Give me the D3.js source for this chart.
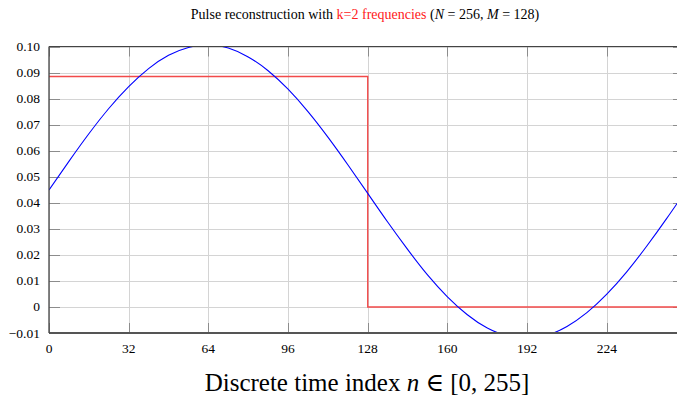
<!DOCTYPE html>
<html lang="en">
<head>
<meta charset="utf-8">
<title>Pulse reconstruction</title>
<script src="https://d3js.org/d3.v7.min.js"></script>
<style>
  body { margin: 0; padding: 0; background: #fff; }
  svg { display: block; font-family: 'Liberation Serif', 'DejaVu Serif', serif; }
  .grid line { stroke: #d4d4d4; stroke-width: 1; }
  .tick-in { stroke: #8c8c8c; stroke-width: 1; }
</style>
</head>
<body>
<script>
// sample index and reconstructed signal (every 8 samples)
var sampleN = [0, 8, 16, 24, 32, 40, 48, 56, 64, 72, 80, 88, 96, 104, 112, 120, 128,
               136, 144, 152, 160, 168, 176, 184, 192, 200, 208, 216, 224, 232, 240, 248, 255];
var reconValues = [0.0449, 0.0559, 0.0665, 0.0762, 0.0846, 0.0915, 0.0966, 0.0996, 0.1006,
                   0.0994, 0.0960, 0.0907, 0.0836, 0.0750, 0.0652, 0.0546, 0.0436,
                   0.0326, 0.0221, 0.0123, 0.0039, -0.0030, -0.0081, -0.0111, -0.0121,
                   -0.0109, -0.0075, -0.0022, 0.0049, 0.0135, 0.0233, 0.0339, 0.0436];

// original pulse (step)
var pulseN = [0, 128, 255];
var pulseValues = [0.0885, 0, 0];

var xTicks = [0, 32, 64, 96, 128, 160, 192, 224];
var yTicks = [-0.01, 0, 0.01, 0.02, 0.03, 0.04, 0.05, 0.06, 0.07, 0.08, 0.09, 0.10];

var width = 677, height = 404;
var pLeft = 49, pTop = 46.5, pBottom = 333, pRight = 684;

var svg = d3.select("body").append("svg")
    .attr("width", width)
    .attr("height", height);

var x = d3.scaleLinear().domain([0, 255]).range([pLeft, pRight]);
var y = d3.scaleLinear().domain([-0.01, 0.10]).range([pBottom, pTop]);

svg.append("defs").append("clipPath").attr("id", "plotclip")
  .append("rect")
    .attr("x", pLeft).attr("y", pTop)
    .attr("width", pRight - pLeft).attr("height", pBottom - pTop);

// grid
var grid = svg.append("g").attr("class", "grid");
grid.selectAll(".gx").data(xTicks).enter().append("line")
    .attr("x1", function(d) { return Math.round(x(d)) + 0.5; })
    .attr("x2", function(d) { return Math.round(x(d)) + 0.5; })
    .attr("y1", pTop).attr("y2", pBottom);
grid.selectAll(".gy").data(yTicks).enter().append("line")
    .attr("y1", function(d) { return Math.round(y(d)) + 0.5; })
    .attr("y2", function(d) { return Math.round(y(d)) + 0.5; })
    .attr("x1", pLeft).attr("x2", pRight);

// inner tick marks
var ticks = svg.append("g");
yTicks.forEach(function(d) {
  var yy = Math.round(y(d)) + 0.5;
  ticks.append("line").attr("class", "tick-in").attr("x1", pLeft).attr("x2", pLeft + 11).attr("y1", yy).attr("y2", yy);
  ticks.append("line").attr("class", "tick-in").attr("x1", pRight - 11).attr("x2", pRight).attr("y1", yy).attr("y2", yy);
});
xTicks.forEach(function(d) {
  var xx = Math.round(x(d)) + 0.5;
  ticks.append("line").attr("class", "tick-in").attr("x1", xx).attr("x2", xx).attr("y1", pBottom - 10).attr("y2", pBottom);
  ticks.append("line").attr("class", "tick-in").attr("x1", xx).attr("x2", xx).attr("y1", pTop).attr("y2", pTop + 10);
});

var plot = svg.append("g").attr("clip-path", "url(#plotclip)");

// pulse
var pulseLine = d3.line()
    .x(function(d) { return x(d[0]); })
    .y(function(d) { return y(d[1]); })
    .curve(d3.curveStepAfter);
plot.append("path")
    .datum(d3.zip(pulseN, pulseValues))
    .attr("fill", "none")
    .attr("stroke", "#f24a4a")
    .attr("stroke-width", 1.4)
    .attr("d", pulseLine);

// reconstruction
var reconLine = d3.line()
    .x(function(d) { return x(d[0]); })
    .y(function(d) { return y(d[1]); })
    .curve(d3.curveNatural);
plot.append("path")
    .datum(d3.zip(sampleN, reconValues))
    .attr("fill", "none")
    .attr("stroke", "#0000ff")
    .attr("stroke-width", 1.1)
    .attr("d", reconLine);

// frame
svg.append("line").attr("x1", pLeft).attr("x2", pRight).attr("y1", pTop).attr("y2", pTop)
    .attr("stroke", "#444").attr("stroke-width", 1.2);
svg.append("line").attr("x1", pLeft).attr("x2", pRight).attr("y1", pBottom).attr("y2", pBottom)
    .attr("stroke", "#555").attr("stroke-width", 1.8);
svg.append("line").attr("x1", pLeft).attr("x2", pLeft).attr("y1", pTop).attr("y2", pBottom)
    .attr("stroke", "#444").attr("stroke-width", 1.3);

// tick labels
svg.append("g").selectAll("text").data(yTicks).enter().append("text")
    .attr("x", 40)
    .attr("y", function(d) { return y(d) + 4.5; })
    .attr("text-anchor", "end")
    .style("font-size", "13.5px")
    .text(function(d) { return d === 0 ? "0" : d3.format(".2f")(d); });

svg.append("g").selectAll("text").data(xTicks).enter().append("text")
    .attr("x", function(d) { return x(d); })
    .attr("y", 353)
    .attr("text-anchor", "middle")
    .style("font-size", "13.5px")
    .text(function(d) { return d; });

// title
var title = svg.append("text")
    .attr("x", 365).attr("y", 18.5)
    .attr("text-anchor", "middle")
    .style("font-size", "14px");
title.append("tspan").text("Pulse reconstruction with ");
title.append("tspan").attr("fill", "#ff2020").text("k=2 frequencies");
title.append("tspan").text(" (");
title.append("tspan").style("font-style", "italic").text("N");
title.append("tspan").text(" = 256, ");
title.append("tspan").style("font-style", "italic").text("M");
title.append("tspan").text(" = 128)");

// x label
var xlab = svg.append("text")
    .attr("x", 367).attr("y", 391)
    .attr("text-anchor", "middle")
    .style("font-size", "25px");
xlab.append("tspan").text("Discrete time index ");
xlab.append("tspan").style("font-style", "italic").text("n");
xlab.append("tspan").text(" \u2208 [0, 255]");
</script>
</body>
</html>
